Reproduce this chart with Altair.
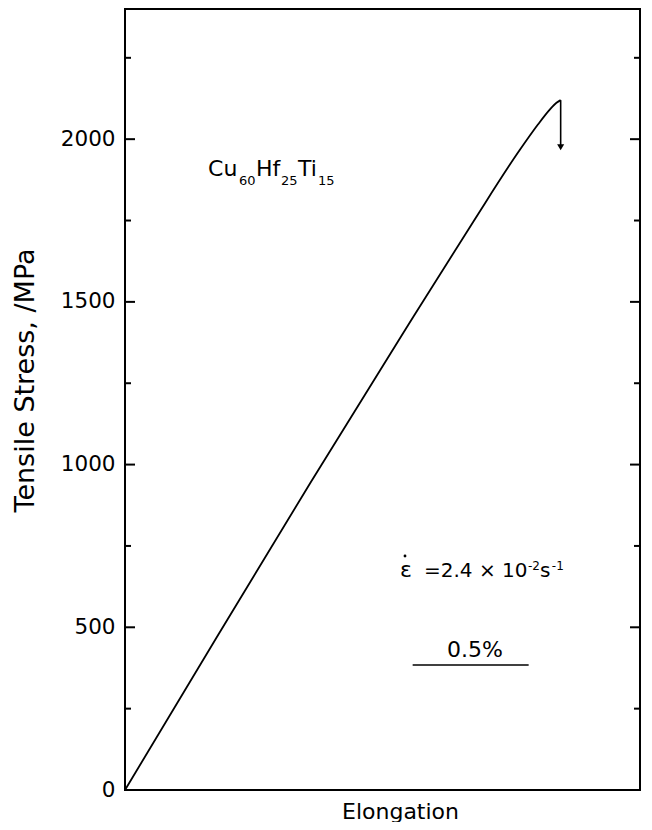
import altair as alt
import pandas as pd

# ---- data ----
elongation = [0.0, 0.40, 0.80, 1.20, 1.50, 1.70, 1.78, 1.83, 1.86, 1.878]   # %
stress = [0, 475, 945, 1405, 1745, 1965, 2045, 2090, 2112, 2120]            # MPa

fracture_elong = 1.878
fracture_stress = 2120
arrow_end_stress = 1975

y_major = [0, 500, 1000, 1500, 2000]
y_minor = [250, 750, 1250, 1750, 2250]

bar_start, bar_end, bar_level = 1.24, 1.74, 384   # 0.5 % scale bar

# text pieces: (text, elongation, stress, font size)
label_text = ["Cu", "60", "Hf", "25", "Ti", "15",
              "ε", "=2.4 × 10", "-2", "s", "-1", "0.5%"]
label_e = [0.358, 0.491, 0.565, 0.672, 0.746, 0.832,
           1.185, 1.289, 1.737, 1.789, 1.840, 1.388]
label_s = [1887, 1859, 1887, 1859, 1887, 1859,
           655, 655, 676, 655, 676, 409]
label_size = [22, 13, 22, 13, 22, 13,
              22, 20, 12, 20, 12, 22]

dot_e, dot_s = 1.207, 719

XMAX = 2.22
YMAX = 2400
W = 515
H = 781
FONT = "DejaVu Sans"

major_len = 10 * XMAX / W
minor_len = 6 * XMAX / W

xs = alt.Scale(domain=[0, XMAX], nice=False, zero=False)
ys = alt.Scale(domain=[0, YMAX], nice=False, zero=False)

curve_df = pd.DataFrame({"e": elongation, "s": stress})

curve = alt.Chart(curve_df).mark_line(color="black", strokeWidth=1.8, interpolate="monotone").encode(
    x=alt.X("e:Q", scale=xs, axis=alt.Axis(
        title="Elongation", labels=False, ticks=False, domain=False, grid=False,
        titleFont=FONT, titleFontSize=22, titleFontWeight="normal", titleColor="black",
        titleX=275, titleY=28, titleAlign="center", titleBaseline="alphabetic")),
    y=alt.Y("s:Q", scale=ys, axis=alt.Axis(
        values=y_major, format="d", labelFont=FONT, labelFontSize=21.5, labelColor="black",
        labelPadding=10, labelFlush=False, labelOverlap=False,
        ticks=False, domain=False, grid=False,
        title="Tensile Stress, /MPa", titleFont=FONT, titleFontSize=27,
        titleFontWeight="normal", titleColor="black", titleAngle=270,
        titleX=-92, titleY=371, titleAlign="center", titleBaseline="alphabetic")),
)

arrow_df = pd.DataFrame({"e": [fracture_elong], "s": [fracture_stress], "s2": [arrow_end_stress]})
arrow_line = alt.Chart(arrow_df).mark_rule(color="black", strokeWidth=1.6).encode(
    x=alt.X("e:Q", scale=xs),
    y=alt.Y("s:Q", scale=ys),
    y2="s2:Q",
)
arrow_head = alt.Chart(arrow_df).mark_point(
    shape="triangle-down", filled=True, color="black", size=50, opacity=1
).encode(
    x=alt.X("e:Q", scale=xs),
    y=alt.Y("s2:Q", scale=ys),
)

# inward ticks on left and right frame
tick_rows = []
for v in y_major:
    tick_rows.append({"e": 0, "e2": major_len, "s": v})
    if v > 0:
        tick_rows.append({"e": XMAX - major_len, "e2": XMAX, "s": v})
for v in y_minor:
    tick_rows.append({"e": 0, "e2": minor_len, "s": v})
    tick_rows.append({"e": XMAX - minor_len, "e2": XMAX, "s": v})
ticks_df = pd.DataFrame(tick_rows)
ticks = alt.Chart(ticks_df).mark_rule(color="black", strokeWidth=2).encode(
    x=alt.X("e:Q", scale=xs),
    x2="e2:Q",
    y=alt.Y("s:Q", scale=ys),
)

bar_df = pd.DataFrame({"e": [bar_start], "e2": [bar_end], "s": [bar_level]})
scale_bar = alt.Chart(bar_df).mark_rule(color="black", strokeWidth=1.6).encode(
    x=alt.X("e:Q", scale=xs),
    x2="e2:Q",
    y=alt.Y("s:Q", scale=ys),
)

text_df = pd.DataFrame({"t": label_text, "e": label_e, "s": label_s, "fs": label_size})
texts = alt.Chart(text_df).mark_text(
    align="left", baseline="alphabetic", font=FONT, color="black"
).encode(
    x=alt.X("e:Q", scale=xs),
    y=alt.Y("s:Q", scale=ys),
    text="t:N",
    size=alt.Size("fs:Q", scale=None, legend=None),
)

dot_df = pd.DataFrame({"e": [dot_e], "s": [dot_s]})
dot = alt.Chart(dot_df).mark_point(shape="circle", filled=True, color="black", size=8, opacity=1).encode(
    x=alt.X("e:Q", scale=xs),
    y=alt.Y("s:Q", scale=ys),
)

chart = alt.layer(curve, arrow_line, arrow_head, ticks, scale_bar, texts, dot).properties(
    width=W,
    height=H,
    autosize=alt.AutoSizeParams(type="none"),
    padding={"left": 117, "top": 1, "right": 4, "bottom": 32},
    background="white",
).configure_view(stroke="black", strokeWidth=2)

chart.save("out.html", embed_options={"renderer": "svg", "actions": False})
